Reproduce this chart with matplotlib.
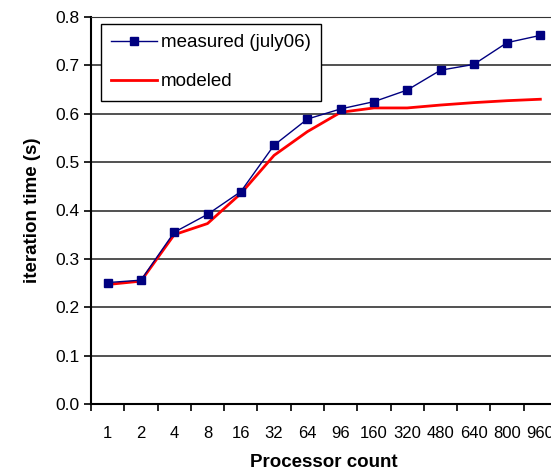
import matplotlib.pyplot as plt
import numpy as np

plt.rcParams['font.family'] = ['Liberation Sans', 'DejaVu Sans']

# processor counts (category axis)
procs = ['1', '2', '4', '8', '16', '32', '64', '96', '160', '320', '480', '640', '800', '960']

# iteration time in seconds
measured = [0.251, 0.256, 0.355, 0.392, 0.439, 0.535, 0.589, 0.610, 0.625,
            0.649, 0.690, 0.702, 0.747, 0.762]
modeled = [0.247, 0.254, 0.350, 0.373, 0.435, 0.514, 0.563, 0.603, 0.612,
           0.612, 0.618, 0.623, 0.627, 0.630]

y_ticks = [0.0, 0.1, 0.2, 0.3, 0.4, 0.5, 0.6, 0.7, 0.8]

fig = plt.figure(figsize=(5.51, 4.71), dpi=100)
# plot area runs past the right edge, like the original
ax = fig.add_axes([91 / 551, (471 - 404) / 471, 466 / 551, 387 / 471])

x = np.arange(len(procs))
ax.plot(x, measured, color='#000080', lw=1, marker='s', ms=6,
        label='measured (july06)', zorder=4)
ax.plot(x, modeled, color='#ff0000', lw=2, label='modeled', zorder=3)

ax.set_xlim(-0.5, len(procs) - 0.5)
ax.set_ylim(0, 0.8)
ax.set_yticks(y_ticks)
ax.set_yticklabels([f'{v:.1f}' for v in y_ticks])
ax.yaxis.grid(True, color='#333333', lw=1.2)
ax.set_axisbelow(True)

# ticks between categories, labels at centers
ax.set_xticks(np.arange(len(procs) + 1) - 0.5)
ax.set_xticklabels([])
ax.set_xticks(x, minor=True)
ax.set_xticklabels(procs, minor=True)
ax.tick_params(axis='x', which='major', direction='out', length=5, width=1.2)
ax.tick_params(axis='x', which='minor', length=0, pad=16, labelsize=12)
ax.tick_params(axis='y', direction='out', length=5, width=1.2, labelsize=12.5)

for s in ['left', 'bottom']:
    ax.spines[s].set_linewidth(1.5)
ax.spines['right'].set_visible(False)
ax.spines['top'].set_color('#333333')

ax.set_xlabel('Processor count', fontsize=13.5, fontweight='bold', labelpad=9)
ax.set_ylabel('iteration time (s)', fontsize=13.5, fontweight='bold', labelpad=10)

leg = ax.legend(loc='upper left', bbox_to_anchor=(0.0215, 0.982), borderaxespad=0,
                fontsize=13.5, frameon=True, fancybox=False, edgecolor='black',
                framealpha=1, handlelength=2.45, handletextpad=0.2,
                borderpad=0.55, labelspacing=1.16)
leg.get_frame().set_linewidth(1)

fig.savefig('out.png', dpi=100)
